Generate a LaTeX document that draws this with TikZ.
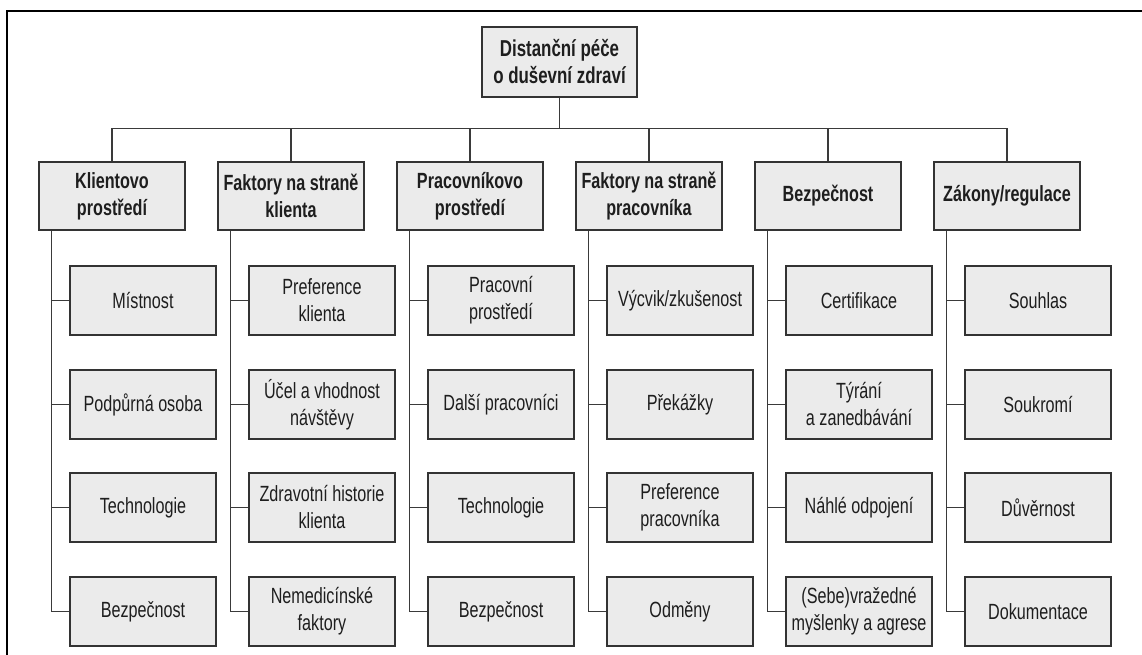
\documentclass[tikz,border=0pt]{standalone}
\usepackage{fontspec}
\setmainfont{Liberation Sans}[FakeStretch=0.735]
\usetikzlibrary{positioning,calc}
\definecolor{boxfill}{HTML}{EBEBEB}
\definecolor{boxline}{HTML}{333333}
\definecolor{linkcol}{HTML}{3A3A3A}
\definecolor{txt}{HTML}{1E1E1E}

\begin{document}
\begin{tikzpicture}[x=1pt, y=-1pt,
    topic/.style={draw=boxline, line width=1.3, fill=boxfill, text=txt, align=center, inner sep=0pt, minimum width=155, minimum height=70, font=\bfseries\fontsize{23}{27}\selectfont},
    area/.style={draw=boxline, line width=1.3, fill=boxfill, text=txt, align=center, inner sep=0pt, minimum width=146, minimum height=68, font=\bfseries\fontsize{22}{27}\selectfont},
    item/.style={draw=boxline, line width=1.3, fill=boxfill, text=txt, align=center, inner sep=0pt, minimum width=146, minimum height=69, font=\fontsize{22}{27}\selectfont},
    link/.style={draw=linkcol, line width=1.1}
]
\useasboundingbox (0,0) rectangle (1142,655);
\draw[line width=2, black] (7,655) -- (7,11) -- (1142,11);

\node[topic] (root) at (559.5,62) {Distanční péče\\o duševní zdraví};

\node[area] (klient) at (112,196) {Klientovo\\prostředí};
\node[area] (fklient) at (291,196) {Faktory na straně\\klienta};
\node[area] (prac) at (470,196) {Pracovníkovo\\prostředí};
\node[area] (fprac) at (649,196) {Faktory na straně\\pracovníka};
\node[area] (bezp) at (828,196) {Bezpečnost};
\node[area] (zakony) at (1007,196) {Zákony/regulace};

\node[item] (mistnost) at (143,300.5) {Místnost};
\node[item] (podpora) at (143,404.5) {Podpůrná osoba};
\node[item] (techk) at (143,507.5) {Technologie};
\node[item] (bezpk) at (143,611.5) {Bezpečnost};

\node[item] (prefk) at (322,300.5) {Preference\\klienta};
\node[item] (ucel) at (322,404.5) {Účel a vhodnost\\návštěvy};
\node[item] (historie) at (322,507.5) {Zdravotní historie\\klienta};
\node[item] (nemed) at (322,611.5) {Nemedicínské\\faktory};

\node[item] (pracprost) at (501,300.5) {Pracovní\\prostředí};
\node[item] (dalsi) at (501,404.5) {Další pracovníci};
\node[item] (techp) at (501,507.5) {Technologie};
\node[item] (bezpp) at (501,611.5) {Bezpečnost};

\node[item] (vycvik) at (680,300.5) {Výcvik/zkušenost};
\node[item] (prekazky) at (680,404.5) {Překážky};
\node[item] (prefp) at (680,507.5) {Preference\\pracovníka};
\node[item] (odmeny) at (680,611.5) {Odměny};

\node[item] (certif) at (859,300.5) {Certifikace};
\node[item] (tyrani) at (859,404.5) {Týrání\\a zanedbávání};
\node[item] (odpojeni) at (859,507.5) {Náhlé odpojení};
\node[item] (sebe) at (859,611.5) {(Sebe)vražedné\\myšlenky a agrese};

\node[item] (souhlas) at (1038,300.5) {Souhlas};
\node[item] (soukromi) at (1038,404.5) {Soukromí};
\node[item] (duvernost) at (1038,507.5) {Důvěrnost};
\node[item] (dokum) at (1038,611.5) {Dokumentace};

\draw[link] (root.south) -- ++(0,31) -| (klient.north);
\draw[link] (root.south) -- ++(0,31) -| (fklient.north);
\draw[link] (root.south) -- ++(0,31) -| (prac.north);
\draw[link] (root.south) -- ++(0,31) -| (fprac.north);
\draw[link] (root.south) -- ++(0,31) -| (bezp.north);
\draw[link] (root.south) -- ++(0,31) -| (zakony.north);

\draw[link] ([xshift=13pt]klient.south west) |- (mistnost.west);
\draw[link] ([xshift=13pt]klient.south west) |- (podpora.west);
\draw[link] ([xshift=13pt]klient.south west) |- (techk.west);
\draw[link] ([xshift=13pt]klient.south west) |- (bezpk.west);

\draw[link] ([xshift=13pt]fklient.south west) |- (prefk.west);
\draw[link] ([xshift=13pt]fklient.south west) |- (ucel.west);
\draw[link] ([xshift=13pt]fklient.south west) |- (historie.west);
\draw[link] ([xshift=13pt]fklient.south west) |- (nemed.west);

\draw[link] ([xshift=13pt]prac.south west) |- (pracprost.west);
\draw[link] ([xshift=13pt]prac.south west) |- (dalsi.west);
\draw[link] ([xshift=13pt]prac.south west) |- (techp.west);
\draw[link] ([xshift=13pt]prac.south west) |- (bezpp.west);

\draw[link] ([xshift=13pt]fprac.south west) |- (vycvik.west);
\draw[link] ([xshift=13pt]fprac.south west) |- (prekazky.west);
\draw[link] ([xshift=13pt]fprac.south west) |- (prefp.west);
\draw[link] ([xshift=13pt]fprac.south west) |- (odmeny.west);

\draw[link] ([xshift=13pt]bezp.south west) |- (certif.west);
\draw[link] ([xshift=13pt]bezp.south west) |- (tyrani.west);
\draw[link] ([xshift=13pt]bezp.south west) |- (odpojeni.west);
\draw[link] ([xshift=13pt]bezp.south west) |- (sebe.west);

\draw[link] ([xshift=13pt]zakony.south west) |- (souhlas.west);
\draw[link] ([xshift=13pt]zakony.south west) |- (soukromi.west);
\draw[link] ([xshift=13pt]zakony.south west) |- (duvernost.west);
\draw[link] ([xshift=13pt]zakony.south west) |- (dokum.west);
\end{tikzpicture}
\end{document}
